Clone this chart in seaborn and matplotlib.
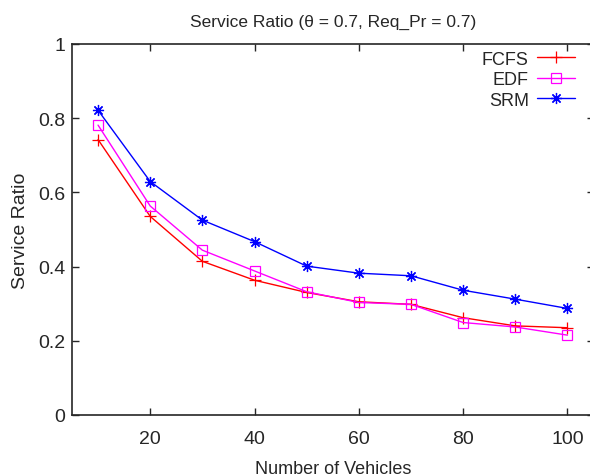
import matplotlib
matplotlib.use("Agg")
import matplotlib.pyplot as plt
import seaborn as sns
import pandas as pd

# Datos
vehicles = [10, 20, 30, 40, 50, 60, 70, 80, 90, 100]
fcfs = [0.742, 0.535, 0.414, 0.363, 0.330, 0.305, 0.298, 0.262, 0.240, 0.235]
edf = [0.781, 0.563, 0.444, 0.388, 0.332, 0.303, 0.298, 0.249, 0.237, 0.215]
srm = [0.821, 0.629, 0.525, 0.467, 0.401, 0.382, 0.375, 0.336, 0.312, 0.287]

x_ticks = [20, 40, 60, 80, 100]
y_ticks = [0, 0.2, 0.4, 0.6, 0.8, 1]
y_tick_labels = ["0", "0.2", "0.4", "0.6", "0.8", "1"]

sns.set_style("ticks")
plt.rcParams["font.family"] = ["Liberation Sans", "DejaVu Sans"]

fig = plt.figure(figsize=(5.9, 4.77), dpi=100)
ax = fig.add_axes([0.122, 0.128, 0.884, 0.778])

series = [
    ("FCFS", fcfs, "#ff0000", "+", 8),
    ("EDF", edf, "#ff00ff", "s", 7.5),
    ("SRM", srm, "#0000ff", (8, 2, 0), 8),
]

for name, values, color, marker, ms in series:
    df = pd.DataFrame({"vehicles": vehicles, "ratio": values})
    sns.lineplot(data=df, x="vehicles", y="ratio", ax=ax, color=color,
                 marker=marker, markersize=ms, markeredgecolor=color,
                 markerfacecolor="none", markeredgewidth=0.9,
                 linewidth=1.0, label=name)

ax.set_xlim(5, 105)
ax.set_ylim(0, 1)
ax.set_xticks(x_ticks)
ax.set_yticks(y_ticks)
ax.set_yticklabels(y_tick_labels)
ax.tick_params(direction="in", top=True, right=True, length=5,
               labelsize=14, width=1)
ax.tick_params(axis="x", pad=11)
ax.tick_params(axis="y", pad=5)
for spine in ax.spines.values():
    spine.set_linewidth(1.2)

ax.set_title("Service Ratio (θ = 0.7, Req_Pr = 0.7)", fontsize=12.5, pad=13)
ax.set_xlabel("Number of Vehicles", fontsize=13, labelpad=9)
ax.set_ylabel("Service Ratio", fontsize=14, labelpad=6)

ax.legend(loc="upper right", frameon=False, markerfirst=False,
          fontsize=13, handlelength=2.1, labelspacing=0.2,
          borderaxespad=0, borderpad=0, handletextpad=0.45,
          bbox_to_anchor=(0.964, 0.982))

fig.savefig("out.png", dpi=100)
